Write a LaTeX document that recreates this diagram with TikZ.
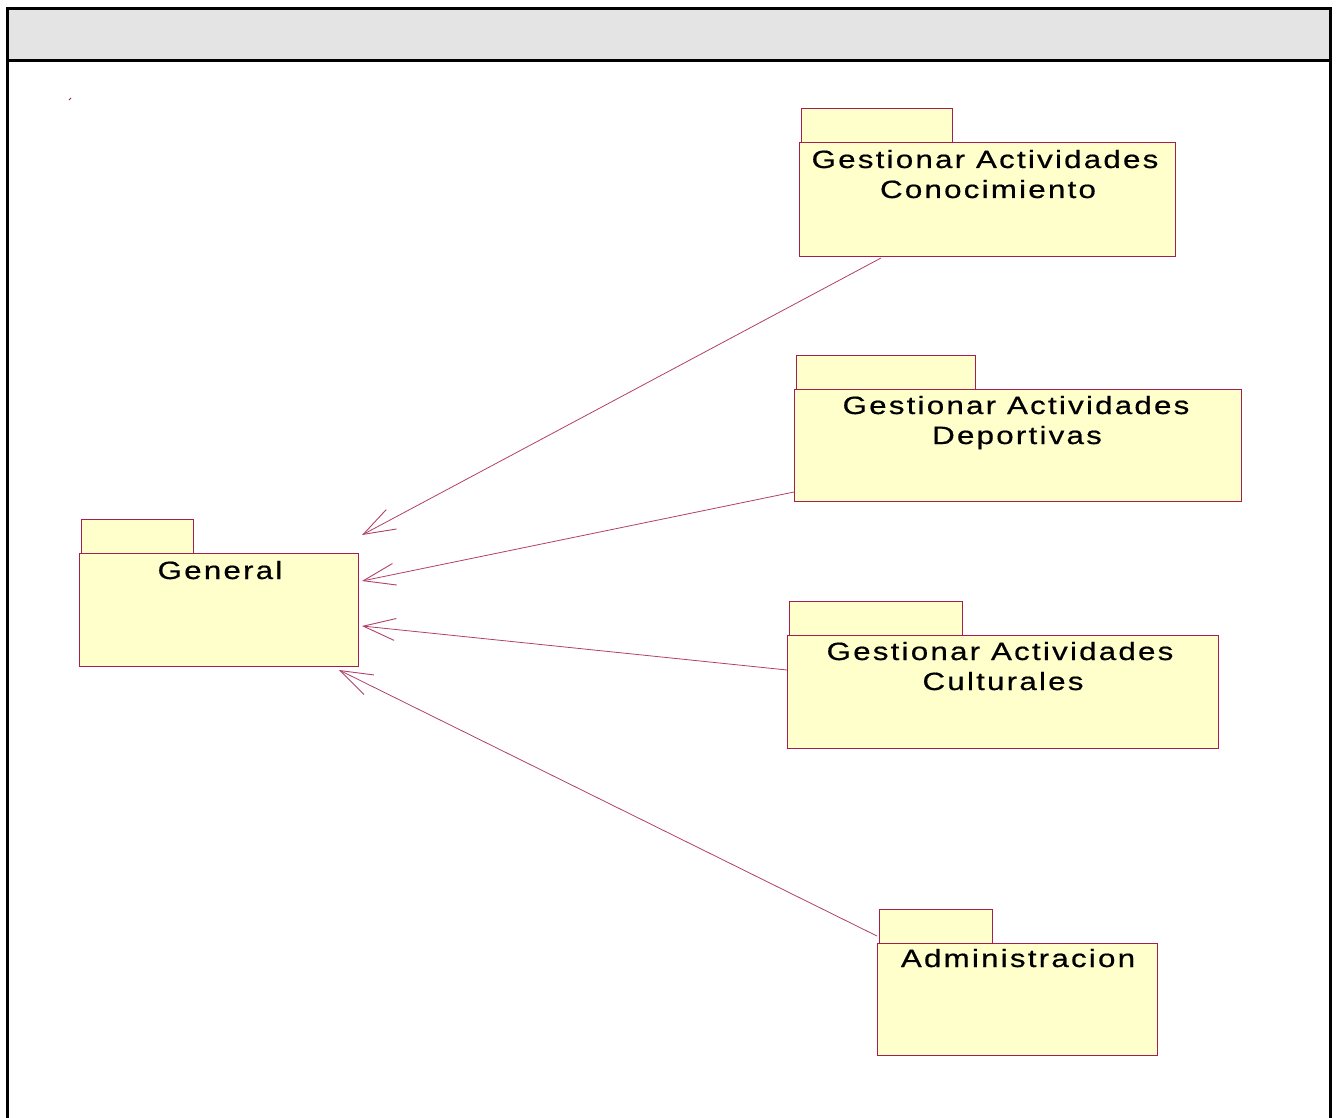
\documentclass[tikz,border=0pt]{standalone}
\usepackage{fontspec}
\setmainfont{Liberation Sans}[FakeStretch=1.25, LetterSpace=9, FakeBold=0.6]
\usetikzlibrary{arrows.meta,calc}
\definecolor{pkgline}{RGB}{165,30,80}
\definecolor{pkgfill}{RGB}{255,255,204}
\definecolor{headfill}{RGB}{228,228,228}
\tikzset{
  pkgbody/.style={draw=pkgline, fill=pkgfill, line width=1pt, inner sep=0pt},
  pkgtab/.style={draw=pkgline, fill=pkgfill, line width=1pt},
  pkgtext/.style={anchor=base, inner sep=0pt, font=\fontsize{25}{30}\selectfont, align=center},
  dep/.style={draw=pkgline!85, line width=0.8pt, -{Straight Barb[length=32pt,width=22pt,line width=0.9pt]}},
}
\begin{document}
\begin{tikzpicture}[x=1pt,y=-1pt]
\useasboundingbox (0,0) rectangle (1336,1118);
\begin{scope}
\clip (0,0) rectangle (1336,1118);
% diagram frame and title bar
\fill[white] (0,0) rectangle (1336,1118);
\fill[headfill] (7,9) rectangle (1330,61);
\draw[line width=3pt] (7,1140) -- (7,9) -- (1330,9) -- (1330,1140);
\draw[line width=3pt] (7,61) -- (1330,61);
\end{scope}

% small stray mark
\draw[pkgline, line width=1pt] (69,100) -- (71,98);

% package: Gestionar Actividades Conocimiento
\draw[pkgtab] (801,109) rectangle (952,143);
\node[pkgbody, minimum width=376pt, minimum height=113pt] (conoc) at (987,199.5) {};
\node[pkgtext] (conocT) at (985,168) {Gestionar Actividades};
\node[pkgtext] (conocT2) at (988,198) {Conocimiento};

% package: Gestionar Actividades Deportivas
\draw[pkgtab] (796,355) rectangle (975,389);
\node[pkgbody, minimum width=447pt, minimum height=112pt] (depor) at (1017.5,445) {};
\node[pkgtext] (deporT) at (1016,414) {Gestionar Actividades};
\node[pkgtext] (deporT2) at (1017,444) {Deportivas};

% package: Gestionar Actividades Culturales
\draw[pkgtab] (789,601) rectangle (962,635);
\node[pkgbody, minimum width=431pt, minimum height=113pt] (cultu) at (1002.5,691.5) {};
\node[pkgtext] (cultuT) at (1000,660) {Gestionar Actividades};
\node[pkgtext] (cultuT2) at (1003,690) {Culturales};

% package: Administracion
\draw[pkgtab] (879,909) rectangle (992,943);
\node[pkgbody, minimum width=280pt, minimum height=112pt] (admin) at (1017,999) {};
\node[pkgtext] (adminT) at (1018,967) {Administracion};

% package: General
\draw[pkgtab] (81,519) rectangle (193,553);
\node[pkgbody, minimum width=279pt, minimum height=113pt] (gen) at (218.5,609.5) {};
\node[pkgtext] (genT) at (220,579) {General};

% dependency end points
\coordinate (c1) at (881,258);
\coordinate (c2) at (794,492);
\coordinate (c3) at (787,670);
\coordinate (c4) at (877,936);
\coordinate (g1) at (362,535);
\coordinate (g2) at (362,581);
\coordinate (g3) at (362,626);
\coordinate (g4) at (339,670);

% dependencies towards General
\draw[dep] (c1) -- (g1);
\draw[dep] (c2) -- (g2);
\draw[dep] (c3) -- (g3);
\draw[dep] (c4) -- (g4);
\end{tikzpicture}
\end{document}
